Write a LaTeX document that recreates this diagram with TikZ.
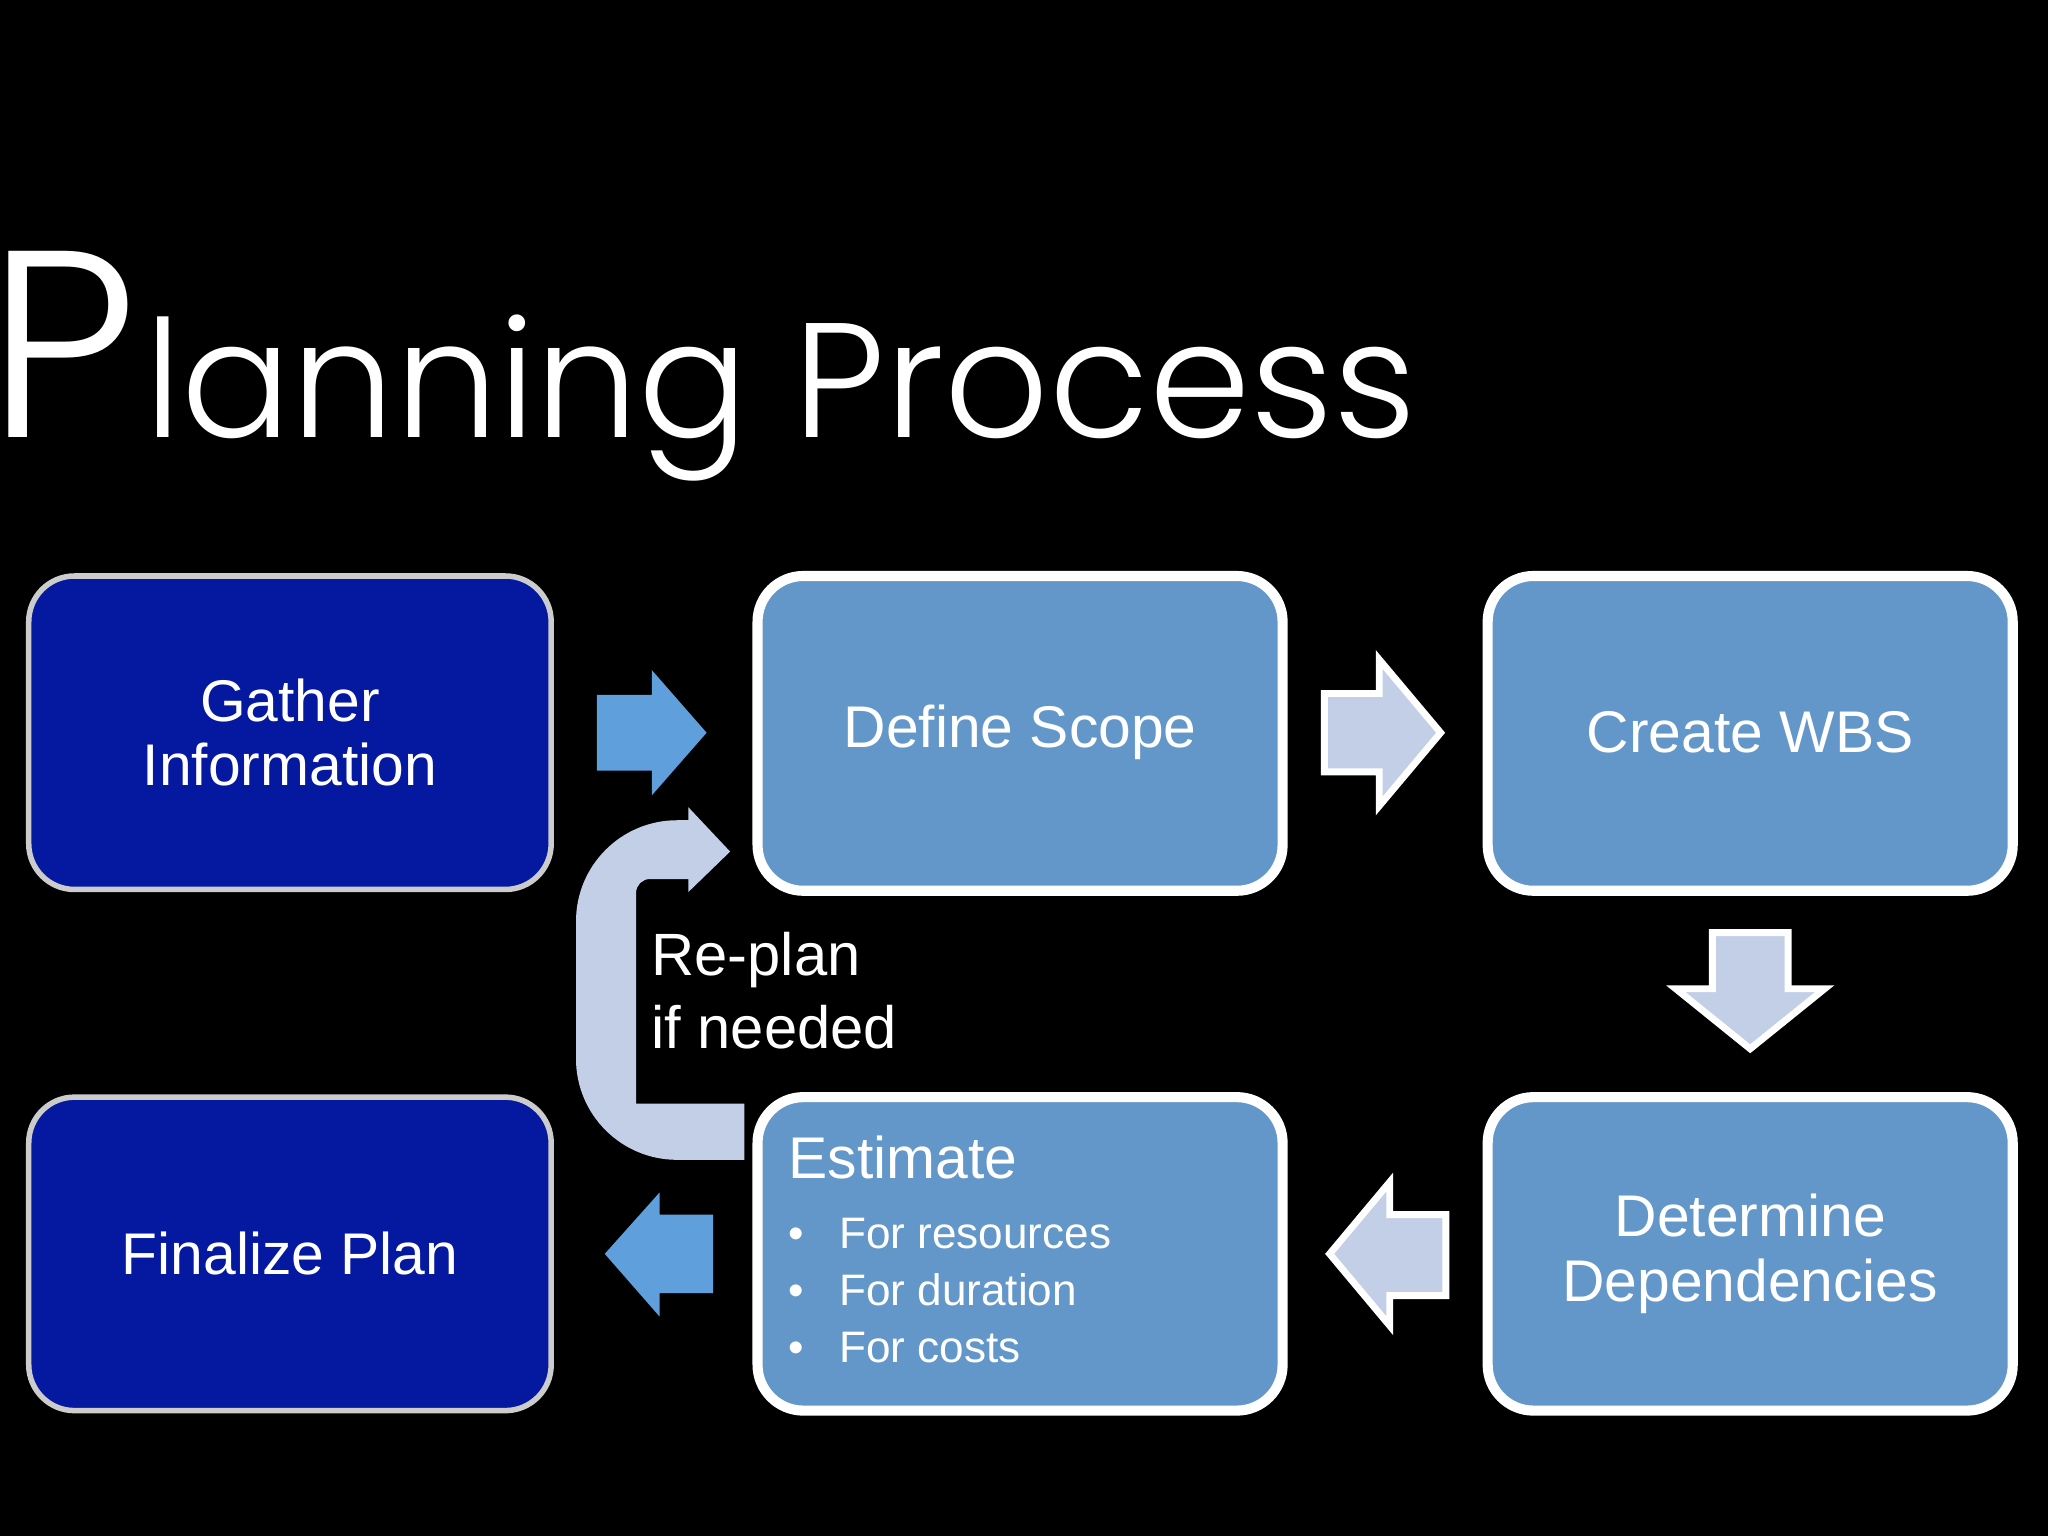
\documentclass[tikz,border=0pt]{standalone}
\usepackage{fontspec}
\setmainfont{Liberation Sans}
\newfontfamily\titlefont{Poppins Light}[Scale=1]
\begin{document}
\begin{tikzpicture}[x=0.01cm,y=-0.01cm,
  dark/.style={draw=black!20!white,line width=1.2pt,fill=dkblue,rounded corners=0.35cm},
  lite/.style={draw=white,line width=2.2pt,fill=mdblue,rounded corners=0.35cm},
  txt/.style={text=white,font=\fontsize{12.8}{14}\selectfont,align=center},
  barrow/.style={fill=arblue},
  larrow/.style={fill=lgblue,draw=white,line width=1.5pt}]
\definecolor{dkblue}{HTML}{0519A0}
\definecolor{mdblue}{HTML}{6497C9}
\definecolor{arblue}{HTML}{5F9FDC}
\definecolor{lgblue}{HTML}{C3CFE6}
\fill[black] (0,0) rectangle (1568,1176);
\useasboundingbox (0,0) rectangle (1568,1176);
% title
\node[anchor=base west,inner sep=0,text=white] (tp) at (-10,335) {\titlefont\fontsize{58}{58}\selectfont P};
\node[anchor=base west,inner sep=0,text=white] (tt) at (110,335) {\titlefont\fontsize{35.5}{36}\selectfont lanning Process};
% boxes
\draw[dark] (22,441) rectangle (422,681);
\node[txt] (g) at (222,561) {Gather\\Information};
\draw[lite] (580,441) rectangle (982,682);
\node[txt] (d) at (781,561) {Define Scope};
\draw[lite] (1139,441) rectangle (1541,682);
\node[txt] (w) at (1340,561) {Create WBS};
\draw[dark] (22,840) rectangle (422,1080);
\node[txt] (f) at (222,960) {Finalize Plan};
\draw[lite] (580,840) rectangle (982,1080);
\node[txt,anchor=base west,inner sep=0] (e) at (603,902) {Estimate};
\node[text=white,anchor=north west,align=left,inner sep=0,font=\fontsize{9.6}{12.4}\selectfont] (eb) at (603,932)
  {\textbullet\hspace{0.8em}For resources\\ \textbullet\hspace{0.8em}For duration\\ \textbullet\hspace{0.8em}For costs};
\draw[lite] (1139,840) rectangle (1541,1080);
\node[txt] (dd) at (1340,960) {Determine\\Dependencies};
% arrows
\fill[barrow] (457,532) -- (499,532) -- (499,513) -- (541,561) -- (499,609) -- (499,590) -- (457,590) -- cycle;
\draw[larrow] (1014,531) -- (1056,531) -- (1056,505) -- (1103,561) -- (1056,617) -- (1056,591) -- (1014,591) -- cycle;
\draw[larrow] (1311,714) -- (1369,714) -- (1369,757) -- (1397,757) -- (1340,803) -- (1283,757) -- (1311,757) -- cycle;
\draw[larrow] (1107,930) -- (1064,930) -- (1064,905) -- (1018,960) -- (1064,1015) -- (1064,992) -- (1107,992) -- cycle;
\fill[barrow] (546,930) -- (505,930) -- (505,913) -- (463,960) -- (505,1008) -- (505,990) -- (546,990) -- cycle;
% re-plan bent arrow
\fill[lgblue] (570,845) -- (487,845) [rounded corners=3pt] -- (487,673) [sharp corners] -- (527,673) -- (527,683) -- (559,652) -- (527,618) -- (527,628) [rounded corners=22pt] -- (441,628) -- (441,888) [sharp corners] -- (570,888) -- cycle;
\node[txt,align=left,anchor=north west,inner sep=0,font=\fontsize{13}{16}\selectfont] (rp) at (498,713) {Re-plan\\if needed};
\end{tikzpicture}
\end{document}
